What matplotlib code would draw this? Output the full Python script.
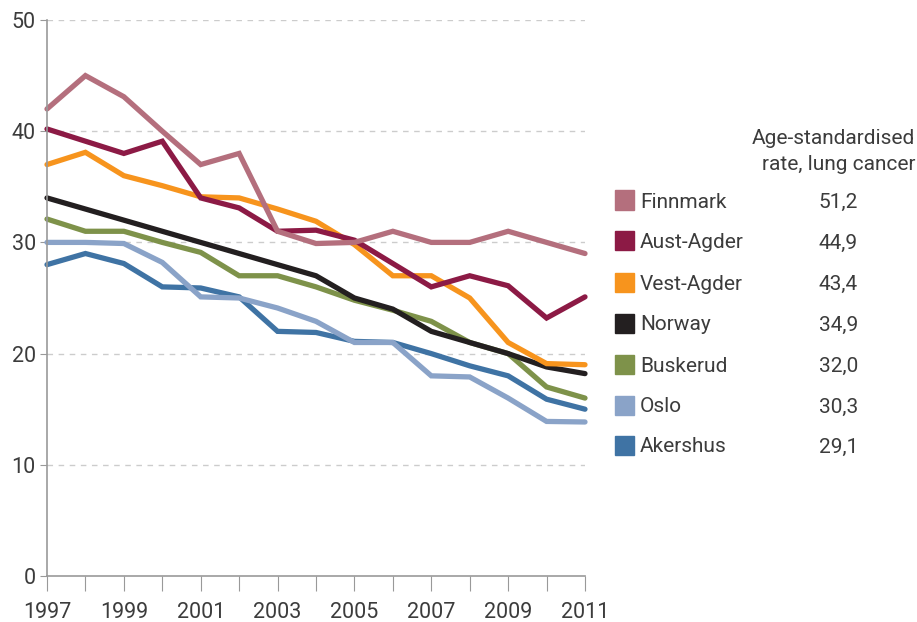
import matplotlib.pyplot as plt
from matplotlib.patches import Rectangle

years = list(range(1997, 2012))

finnmark = [42.0, 45.0, 43.1, 40.0, 37.0, 38.0, 31.0, 29.9, 30.0, 31.0, 30.0, 30.0, 31.0, 30.0, 29.0]
aust_agder = [40.2, 39.1, 38.0, 39.1, 34.0, 33.1, 31.0, 31.1, 30.2, 28.1, 26.0, 27.0, 26.1, 23.2, 25.1]
vest_agder = [37.0, 38.1, 36.0, 35.1, 34.1, 34.0, 33.0, 31.9, 29.8, 27.0, 27.0, 25.0, 21.0, 19.1, 19.0]
norway = [34.0, 33.0, 32.0, 31.0, 30.0, 29.0, 28.0, 27.0, 25.0, 24.0, 22.0, 21.0, 20.0, 18.8, 18.2]
buskerud = [32.1, 31.0, 31.0, 30.0, 29.1, 27.0, 27.0, 26.0, 24.8, 23.9, 22.9, 21.0, 20.0, 17.0, 16.0]
oslo = [30.0, 30.0, 29.9, 28.2, 25.1, 25.0, 24.1, 22.9, 21.0, 21.0, 18.0, 17.9, 16.0, 13.9, 13.85]
akershus = [28.0, 29.0, 28.1, 26.0, 25.9, 25.1, 22.0, 21.9, 21.1, 21.0, 20.0, 18.9, 18.0, 15.9, 15.0]

names = ['Finnmark', 'Aust-Agder', 'Vest-Agder', 'Norway', 'Buskerud', 'Oslo', 'Akershus']
series = [finnmark, aust_agder, vest_agder, norway, buskerud, oslo, akershus]
rates = ['51,2', '44,9', '43,4', '34,9', '32,0', '30,3', '29,1']
colors = ['#b46f7d', '#8c1a45', '#f7941d', '#231f20', '#7e924a', '#8aa3c8', '#3f73a4']

plt.rcParams['font.family'] = ['Roboto', 'DejaVu Sans']
txt = '#3c3c3c'

fig = plt.figure(figsize=(9.17, 6.22), dpi=100)
ax = fig.add_axes([47 / 917, 46 / 622, 538 / 917, 556 / 622])

# reverse order so Finnmark ends up on top
for name, vals, c in reversed(list(zip(names, series, colors))):
   ax.plot(years, vals, color=c, lw=3.8, solid_capstyle='round', solid_joinstyle='miter', clip_on=False)

ax.set_xlim(1997, 2011)
ax.set_ylim(0, 50)
ax.set_yticks(range(0, 51, 10))
ax.set_xticks(years)
ax.set_xticklabels([str(y) if (y - 1997) % 2 == 0 else '' for y in years])

for y in range(10, 51, 10):
   ax.axhline(y, color='#cccccc', lw=1, ls=(0, (4, 4)), zorder=0)

for s in ['top', 'right']:
   ax.spines[s].set_visible(False)
for s in ['left', 'bottom']:
   ax.spines[s].set_color('#999999')
   ax.spines[s].set_linewidth(1.2)

ax.tick_params(axis='y', length=5, color='#999999', labelsize=15.5, labelcolor=txt, pad=3)
ax.tick_params(axis='x', length=11, color='#999999', labelsize=15.5, labelcolor=txt, pad=8)

# legend drawn by hand in figure pixels
fig.text(915 / 917, 1 - 139 / 622, 'Age-standardised', ha='right', va='center', fontsize=15, color=txt)
fig.text(915 / 917, 1 - 164 / 622, 'rate, lung cancer', ha='right', va='center', fontsize=15, color=txt)
row_y = [200, 241, 282, 323, 364, 405, 445]
for name, rate, c, py in zip(names, rates, colors, row_y):
   fig.patches.append(Rectangle((615 / 917, 1 - (py + 9.5) / 622), 19 / 917, 19 / 622,
                                transform=fig.transFigure, color=c))
   fig.text(640 / 917, 1 - (py + 2) / 622, name, ha='left', va='center', fontsize=15, color=txt)
   fig.text(858 / 917, 1 - (py + 2) / 622, rate, ha='right', va='center', fontsize=15, color=txt)

plt.savefig('out.png', dpi=100)
